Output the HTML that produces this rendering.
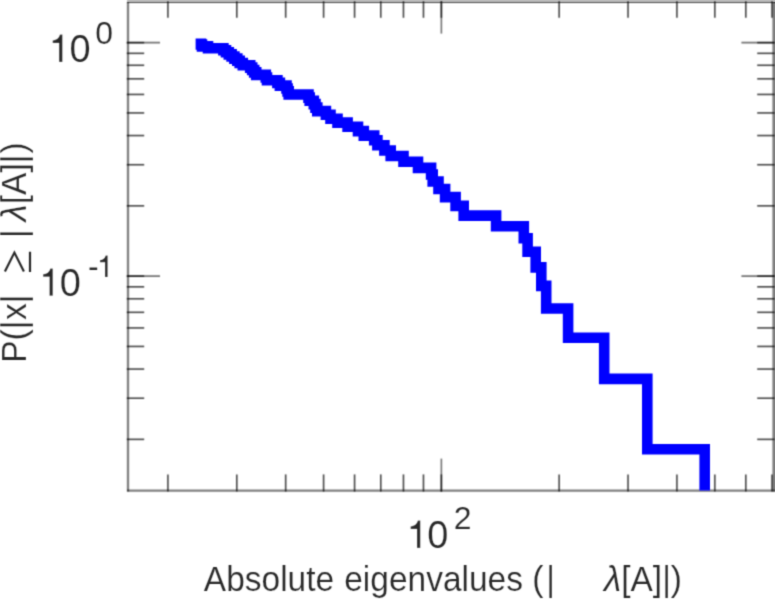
<!DOCTYPE html>
<html><head><meta charset="utf-8"><title>chart</title>
<style>
html,body{margin:0;padding:0;background:#fff;}
body{width:775px;height:600px;overflow:hidden;}
svg{display:block}
text{font-family:"Liberation Sans",sans-serif;fill:#282828;stroke:#fff;stroke-width:0.18px;}
</style></head><body>
<svg width="775" height="600" viewBox="0 0 775 600">
<defs><clipPath id="c"><rect x="128.0" y="1.6" width="645.4" height="489.0"/></clipPath>
<filter id="bl" x="-2%" y="-2%" width="104%" height="104%" color-interpolation-filters="sRGB"><feConvolveMatrix order="3" kernelMatrix="0.0441 0.1218 0.0441 0.1218 0.3364 0.1218 0.0441 0.1218 0.0441" edgeMode="none" preserveAlpha="false"/></filter>
<filter id="b" x="-2%" y="-2%" width="104%" height="104%" color-interpolation-filters="sRGB"><feConvolveMatrix order="3" kernelMatrix="0.0289 0.1122 0.0289 0.1122 0.4356 0.1122 0.0289 0.1122 0.0289" edgeMode="none" preserveAlpha="false"/></filter></defs>
<rect width="775" height="600" fill="#fff"/>
<g filter="url(#bl)">
<line x1="128.0" x2="128.0" y1="2" y2="491.6" stroke="rgba(0,0,0,0.5)" stroke-width="2.3"/>
<line x1="127.0" x2="775" y1="490.6" y2="490.6" stroke="rgba(0,0,0,0.5)" stroke-width="2.3"/>
<rect x="772.4" y="2" width="4" height="489.6" fill="rgba(0,0,0,0.5)"/>
<rect x="127.0" y="-2" width="775" height="3" fill="rgba(0,0,0,0.28)"/>
<rect x="127.0" y="1" width="775" height="1" fill="rgba(0,0,0,0.2)"/>
<rect x="127.0" y="2" width="775" height="1" fill="rgba(0,0,0,0.75)"/>
<line x1="126.8" x2="144.2" y1="42.64" y2="42.64" stroke="rgba(0,0,0,0.72)" stroke-width="1.60"/>
<line x1="757.2" x2="774.6" y1="42.64" y2="42.64" stroke="rgba(0,0,0,0.72)" stroke-width="1.60"/>
<line x1="126.8" x2="160.0" y1="42.64" y2="42.64" stroke="rgba(0,0,0,0.55)" stroke-width="1.60"/>
<line x1="741.4" x2="774.6" y1="42.64" y2="42.64" stroke="rgba(0,0,0,0.55)" stroke-width="1.60"/>
<line x1="126.8" x2="144.2" y1="276.14" y2="276.14" stroke="rgba(0,0,0,0.72)" stroke-width="1.60"/>
<line x1="757.2" x2="774.6" y1="276.14" y2="276.14" stroke="rgba(0,0,0,0.72)" stroke-width="1.60"/>
<line x1="126.8" x2="160.0" y1="276.14" y2="276.14" stroke="rgba(0,0,0,0.55)" stroke-width="1.60"/>
<line x1="741.4" x2="774.6" y1="276.14" y2="276.14" stroke="rgba(0,0,0,0.55)" stroke-width="1.60"/>
<line x1="126.8" x2="144.2" y1="205.85" y2="205.85" stroke="rgba(0,0,0,0.72)" stroke-width="1.60"/>
<line x1="757.2" x2="774.6" y1="205.85" y2="205.85" stroke="rgba(0,0,0,0.72)" stroke-width="1.60"/>
<line x1="126.8" x2="144.2" y1="164.73" y2="164.73" stroke="rgba(0,0,0,0.72)" stroke-width="1.60"/>
<line x1="757.2" x2="774.6" y1="164.73" y2="164.73" stroke="rgba(0,0,0,0.72)" stroke-width="1.60"/>
<line x1="126.8" x2="144.2" y1="135.56" y2="135.56" stroke="rgba(0,0,0,0.72)" stroke-width="1.60"/>
<line x1="757.2" x2="774.6" y1="135.56" y2="135.56" stroke="rgba(0,0,0,0.72)" stroke-width="1.60"/>
<line x1="126.8" x2="144.2" y1="112.93" y2="112.93" stroke="rgba(0,0,0,0.72)" stroke-width="1.60"/>
<line x1="757.2" x2="774.6" y1="112.93" y2="112.93" stroke="rgba(0,0,0,0.72)" stroke-width="1.60"/>
<line x1="126.8" x2="144.2" y1="94.44" y2="94.44" stroke="rgba(0,0,0,0.72)" stroke-width="1.60"/>
<line x1="757.2" x2="774.6" y1="94.44" y2="94.44" stroke="rgba(0,0,0,0.72)" stroke-width="1.60"/>
<line x1="126.8" x2="144.2" y1="78.81" y2="78.81" stroke="rgba(0,0,0,0.72)" stroke-width="1.60"/>
<line x1="757.2" x2="774.6" y1="78.81" y2="78.81" stroke="rgba(0,0,0,0.72)" stroke-width="1.60"/>
<line x1="126.8" x2="144.2" y1="65.27" y2="65.27" stroke="rgba(0,0,0,0.72)" stroke-width="1.60"/>
<line x1="757.2" x2="774.6" y1="65.27" y2="65.27" stroke="rgba(0,0,0,0.72)" stroke-width="1.60"/>
<line x1="126.8" x2="144.2" y1="53.32" y2="53.32" stroke="rgba(0,0,0,0.72)" stroke-width="1.60"/>
<line x1="757.2" x2="774.6" y1="53.32" y2="53.32" stroke="rgba(0,0,0,0.72)" stroke-width="1.60"/>
<line x1="126.8" x2="144.2" y1="439.35" y2="439.35" stroke="rgba(0,0,0,0.72)" stroke-width="1.60"/>
<line x1="757.2" x2="774.6" y1="439.35" y2="439.35" stroke="rgba(0,0,0,0.72)" stroke-width="1.60"/>
<line x1="126.8" x2="144.2" y1="398.23" y2="398.23" stroke="rgba(0,0,0,0.72)" stroke-width="1.60"/>
<line x1="757.2" x2="774.6" y1="398.23" y2="398.23" stroke="rgba(0,0,0,0.72)" stroke-width="1.60"/>
<line x1="126.8" x2="144.2" y1="369.06" y2="369.06" stroke="rgba(0,0,0,0.72)" stroke-width="1.60"/>
<line x1="757.2" x2="774.6" y1="369.06" y2="369.06" stroke="rgba(0,0,0,0.72)" stroke-width="1.60"/>
<line x1="126.8" x2="144.2" y1="346.43" y2="346.43" stroke="rgba(0,0,0,0.72)" stroke-width="1.60"/>
<line x1="757.2" x2="774.6" y1="346.43" y2="346.43" stroke="rgba(0,0,0,0.72)" stroke-width="1.60"/>
<line x1="126.8" x2="144.2" y1="327.94" y2="327.94" stroke="rgba(0,0,0,0.72)" stroke-width="1.60"/>
<line x1="757.2" x2="774.6" y1="327.94" y2="327.94" stroke="rgba(0,0,0,0.72)" stroke-width="1.60"/>
<line x1="126.8" x2="144.2" y1="312.31" y2="312.31" stroke="rgba(0,0,0,0.72)" stroke-width="1.60"/>
<line x1="757.2" x2="774.6" y1="312.31" y2="312.31" stroke="rgba(0,0,0,0.72)" stroke-width="1.60"/>
<line x1="126.8" x2="144.2" y1="298.77" y2="298.77" stroke="rgba(0,0,0,0.72)" stroke-width="1.60"/>
<line x1="757.2" x2="774.6" y1="298.77" y2="298.77" stroke="rgba(0,0,0,0.72)" stroke-width="1.60"/>
<line x1="126.8" x2="144.2" y1="286.82" y2="286.82" stroke="rgba(0,0,0,0.72)" stroke-width="1.60"/>
<line x1="757.2" x2="774.6" y1="286.82" y2="286.82" stroke="rgba(0,0,0,0.72)" stroke-width="1.60"/>
<line x1="167.91" x2="167.91" y1="491.6" y2="474.4" stroke="rgba(0,0,0,0.72)" stroke-width="1.60"/>
<line x1="167.91" x2="167.91" y1="1.2" y2="17.8" stroke="rgba(0,0,0,0.72)" stroke-width="1.60"/>
<line x1="236.80" x2="236.80" y1="491.6" y2="474.4" stroke="rgba(0,0,0,0.72)" stroke-width="1.60"/>
<line x1="236.80" x2="236.80" y1="1.2" y2="17.8" stroke="rgba(0,0,0,0.72)" stroke-width="1.60"/>
<line x1="285.68" x2="285.68" y1="491.6" y2="474.4" stroke="rgba(0,0,0,0.72)" stroke-width="1.60"/>
<line x1="285.68" x2="285.68" y1="1.2" y2="17.8" stroke="rgba(0,0,0,0.72)" stroke-width="1.60"/>
<line x1="323.60" x2="323.60" y1="491.6" y2="474.4" stroke="rgba(0,0,0,0.72)" stroke-width="1.60"/>
<line x1="323.60" x2="323.60" y1="1.2" y2="17.8" stroke="rgba(0,0,0,0.72)" stroke-width="1.60"/>
<line x1="354.58" x2="354.58" y1="491.6" y2="474.4" stroke="rgba(0,0,0,0.72)" stroke-width="1.60"/>
<line x1="354.58" x2="354.58" y1="1.2" y2="17.8" stroke="rgba(0,0,0,0.72)" stroke-width="1.60"/>
<line x1="380.77" x2="380.77" y1="491.6" y2="474.4" stroke="rgba(0,0,0,0.72)" stroke-width="1.60"/>
<line x1="380.77" x2="380.77" y1="1.2" y2="17.8" stroke="rgba(0,0,0,0.72)" stroke-width="1.60"/>
<line x1="403.46" x2="403.46" y1="491.6" y2="474.4" stroke="rgba(0,0,0,0.72)" stroke-width="1.60"/>
<line x1="403.46" x2="403.46" y1="1.2" y2="17.8" stroke="rgba(0,0,0,0.72)" stroke-width="1.60"/>
<line x1="423.47" x2="423.47" y1="491.6" y2="474.4" stroke="rgba(0,0,0,0.72)" stroke-width="1.60"/>
<line x1="423.47" x2="423.47" y1="1.2" y2="17.8" stroke="rgba(0,0,0,0.72)" stroke-width="1.60"/>
<line x1="441.37" x2="441.37" y1="491.6" y2="474.4" stroke="rgba(0,0,0,0.72)" stroke-width="1.60"/>
<line x1="441.37" x2="441.37" y1="1.2" y2="17.8" stroke="rgba(0,0,0,0.72)" stroke-width="1.60"/>
<line x1="441.37" x2="441.37" y1="491.6" y2="458.6" stroke="rgba(0,0,0,0.55)" stroke-width="1.60"/>
<line x1="441.37" x2="441.37" y1="1.2" y2="33.6" stroke="rgba(0,0,0,0.55)" stroke-width="1.60"/>
<line x1="559.14" x2="559.14" y1="491.6" y2="474.4" stroke="rgba(0,0,0,0.72)" stroke-width="1.60"/>
<line x1="559.14" x2="559.14" y1="1.2" y2="17.8" stroke="rgba(0,0,0,0.72)" stroke-width="1.60"/>
<line x1="628.03" x2="628.03" y1="491.6" y2="474.4" stroke="rgba(0,0,0,0.72)" stroke-width="1.60"/>
<line x1="628.03" x2="628.03" y1="1.2" y2="17.8" stroke="rgba(0,0,0,0.72)" stroke-width="1.60"/>
<line x1="676.91" x2="676.91" y1="491.6" y2="474.4" stroke="rgba(0,0,0,0.72)" stroke-width="1.60"/>
<line x1="676.91" x2="676.91" y1="1.2" y2="17.8" stroke="rgba(0,0,0,0.72)" stroke-width="1.60"/>
<line x1="714.83" x2="714.83" y1="491.6" y2="474.4" stroke="rgba(0,0,0,0.72)" stroke-width="1.60"/>
<line x1="714.83" x2="714.83" y1="1.2" y2="17.8" stroke="rgba(0,0,0,0.72)" stroke-width="1.60"/>
<line x1="745.81" x2="745.81" y1="491.6" y2="474.4" stroke="rgba(0,0,0,0.72)" stroke-width="1.60"/>
<line x1="745.81" x2="745.81" y1="1.2" y2="17.8" stroke="rgba(0,0,0,0.72)" stroke-width="1.60"/>
<line x1="772.00" x2="772.00" y1="491.6" y2="474.4" stroke="rgba(0,0,0,0.72)" stroke-width="1.60"/>
<line x1="772.00" x2="772.00" y1="1.2" y2="17.8" stroke="rgba(0,0,0,0.72)" stroke-width="1.60"/>
</g>
<g filter="url(#b)"><g clip-path="url(#c)"><path d="M200.9 43.8 V44.5 H202.0 V46.4 H208.0 V48.3 H223.4 V50.3 H226.0 V52.3 H228.8 V54.4 H231.6 V56.5 H234.4 V58.6 H237.3 V60.8 H239.7 V63.0 H242.8 V65.3 H250.2 V67.6 H252.2 V70.0 H254.2 V72.4 H256.2 V74.9 H265.8 V77.5 H267.0 V80.2 H277.4 V82.9 H279.9 V85.6 H286.5 V88.5 H287.6 V91.4 H288.7 V94.5 H308.5 V97.6 H309.7 V100.8 H313.8 V104.1 H315.5 V107.6 H317.3 V111.1 H325.9 V114.8 H330.5 V118.7 H337.5 V122.6 H347.6 V126.8 H358.0 V131.1 H363.8 V135.6 H374.2 V140.3 H377.4 V145.3 H384.4 V150.5 H390.7 V156.0 H403.5 V161.8 H418.0 V167.9 H431.1 V174.5 H432.7 V181.5 H438.5 V189.0 H445.1 V197.1 H455.6 V205.9 H463.7 V215.6 H496.1 V226.3 H523.8 V238.2 H527.6 V251.8 H535.7 V267.4 H541.3 V285.9 H546.2 V308.5 H568.1 V337.7 H604.2 V378.9 H647.3 V449.2 H704.7 V520.0" fill="none" stroke="#0000ff" stroke-width="10.6" stroke-linecap="square" stroke-linejoin="miter"/></g>
<!-- tick labels -->
<path transform="translate(52.6,34.6) scale(1.000)" d="M9.8 0V27.3H6.5V8.4H0.1V5.9Q5.9 5.4 7.4 0Z" fill="#282828" stroke="#fff" stroke-width="0.3"/><text transform="translate(69.4,61.95) scale(1,1.035)" font-size="38" >0</text><text transform="translate(95.3,43.90) scale(1,1.000)" font-size="32" >0</text>
<path transform="translate(43.0,268.4) scale(1.000)" d="M9.8 0V27.3H6.5V8.4H0.1V5.9Q5.9 5.4 7.4 0Z" fill="#282828" stroke="#fff" stroke-width="0.3"/><text transform="translate(59.8,295.75) scale(1,1.035)" font-size="38" >0</text><text transform="translate(88.0,276.90) scale(1,1.000)" font-size="32" >-</text><path transform="translate(99.9,255.5) scale(0.790)" d="M9.8 0V27.3H6.5V8.4H0.1V5.9Q5.9 5.4 7.4 0Z" fill="#282828" stroke="#fff" stroke-width="0.3"/>
<path transform="translate(410.5,520.6) scale(1.000)" d="M9.8 0V27.3H6.5V8.4H0.1V5.9Q5.9 5.4 7.4 0Z" fill="#282828" stroke="#fff" stroke-width="0.3"/><text transform="translate(427.3,548.10) scale(1,1.035)" font-size="38" >0</text><text transform="translate(453.8,529.30) scale(1,1.000)" font-size="32" >2</text>
<!-- x label -->
<text transform="translate(203.8,590.50) scale(1,1.035)" font-size="33.5" word-spacing="0.8">Absolute eigenvalues</text>
<text transform="translate(532.2,590.50) scale(1,1.035)" font-size="33.5" >(</text>
<text transform="translate(546.2,590.50) scale(1,1.035)" font-size="33.5" >|</text>
<text transform="translate(604.1,590.50) scale(1,1.000)" font-size="35" font-style="italic">λ</text>
<text transform="translate(621.2,590.50) scale(1,1.035)" font-size="33.5" >[A]|)</text>
<!-- y label -->
<path d="M4.9 271.6L14.4 252.6L23.9 271.6M30 251.7V271.9" fill="none" stroke="#282828" stroke-width="2.2"/>
<g transform="translate(26.4,0) rotate(-90)">
<text transform="translate(-362.8,0.00) scale(1,1.035)" font-size="33.5" >P(|</text>
<text transform="translate(-320.0,0.00) scale(1,1.035)" font-size="33.5" >x|</text>
<text transform="translate(-238.0,0.00) scale(1,1.035)" font-size="33.5" >|</text>
<text transform="translate(-221.5,0.00) scale(1,1.000)" font-size="35" font-style="italic">λ</text>
<text transform="translate(-204.2,0.00) scale(1,1.035)" font-size="33.5" >[A]|</text>
<text transform="translate(-153.5,0.00) scale(1,1.035)" font-size="33.5" >)</text>
</g>
</g>
</svg>
</body></html>
